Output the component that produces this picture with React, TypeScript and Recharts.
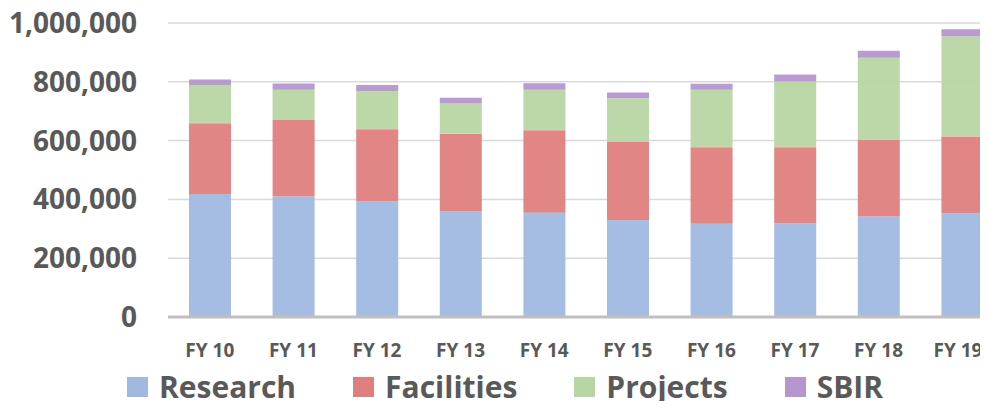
import { Bar, BarChart, CartesianGrid, XAxis, YAxis } from "recharts";

const years = ["FY 10", "FY 11", "FY 12", "FY 13", "FY 14", "FY 15", "FY 16", "FY 17", "FY 18", "FY 19"];
const research = [418000, 410000, 393000, 359000, 355000, 330000, 317000, 318000, 342000, 353000];
const facilities = [241000, 260000, 246000, 264000, 280000, 267000, 260000, 259000, 261000, 261000];
const projects = [130000, 103000, 130000, 103000, 138000, 147000, 196000, 224000, 279000, 341000];
const sbir = [19000, 21000, 20000, 20000, 22000, 20000, 20000, 24000, 24000, 24000];
const yTicks = [0, 200000, 400000, 600000, 800000, 1000000];

const series = [
  { key: "research", name: "Research", color: "#A1B9E1" },
  { key: "facilities", name: "Facilities", color: "#DF7E7E" },
  { key: "projects", name: "Projects", color: "#B8D6A3" },
  { key: "sbir", name: "SBIR", color: "#B596CF" },
];

const data = years.map((label, i) => ({
  label,
  research: research[i],
  facilities: facilities[i],
  projects: projects[i],
  sbir: sbir[i],
}));

const font = "'Open Sans', sans-serif";
const textColor = "#595959";

// x tick; the last label is pulled left so it stays inside the frame
function YearTick(props: any) {
  const { x, y, payload, index } = props;
  const last = index === years.length - 1 || payload?.value === years[years.length - 1];
  const tx = last ? Math.min(Number(x), 958) : Number(x);
  return (
    <text
      x={tx}
      y={y}
      dy="0.71em"
      textAnchor="middle"
      fill={textColor}
      fontSize={19}
      fontWeight={700}
      fontFamily={font}
    >
      {payload.value}
    </text>
  );
}

export default function App() {
  return (
    <div
      style={{
        margin: -8,
        position: "relative",
        width: 988,
        height: 409,
        overflow: "hidden",
        background: "#fff",
        fontFamily: font,
      }}
    >
      {/* black frame edge on the left */}
      <div style={{ position: "absolute", left: 3, top: 0, width: 2, height: 409, background: "#222" }} />
      <BarChart
        width={1012}
        height={409}
        data={data}
        margin={{ top: 23, right: 8, bottom: 0, left: 0 }}
        barSize={42}
      >
        <CartesianGrid vertical={false} stroke="#D9D9D9" strokeWidth={1.5} />
        <XAxis
          dataKey="label"
          height={92}
          tickLine={false}
          tickSize={0}
          tickMargin={27}
          interval={0}
          axisLine={{ stroke: "#BFBFBF", strokeWidth: 3 }}
          tick={(p: any) => <YearTick {...p} />}
        />
        <YAxis
          width={168}
          domain={[0, 1000000]}
          ticks={yTicks}
          axisLine={false}
          tickLine={false}
          tickSize={0}
          tickMargin={31}
          tickFormatter={(v: number) => v.toLocaleString("en-US")}
          tick={{ fill: textColor, fontSize: 28, fontWeight: 700, fontFamily: font }}
        />
        {series.map((s) => (
          <Bar
            key={s.key}
            dataKey={s.key}
            name={s.name}
            stackId="total"
            fill={s.color}
            fillOpacity={0.95}
            isAnimationActive={false}
          />
        ))}
      </BarChart>
      {/* legend row */}
      <div
        style={{
          position: "absolute",
          left: 127,
          top: 372,
          display: "flex",
          alignItems: "center",
          gap: 57,
          fontSize: 30,
          lineHeight: "30px",
          fontWeight: 700,
          color: textColor,
          whiteSpace: "nowrap",
        }}
      >
        {series.map((s) => (
          <div key={s.key} style={{ display: "flex", alignItems: "center" }}>
            <span style={{ width: 21, height: 20, background: s.color, marginRight: 11, display: "inline-block" }} />
            <span>{s.name}</span>
          </div>
        ))}
      </div>
    </div>
  );
}
